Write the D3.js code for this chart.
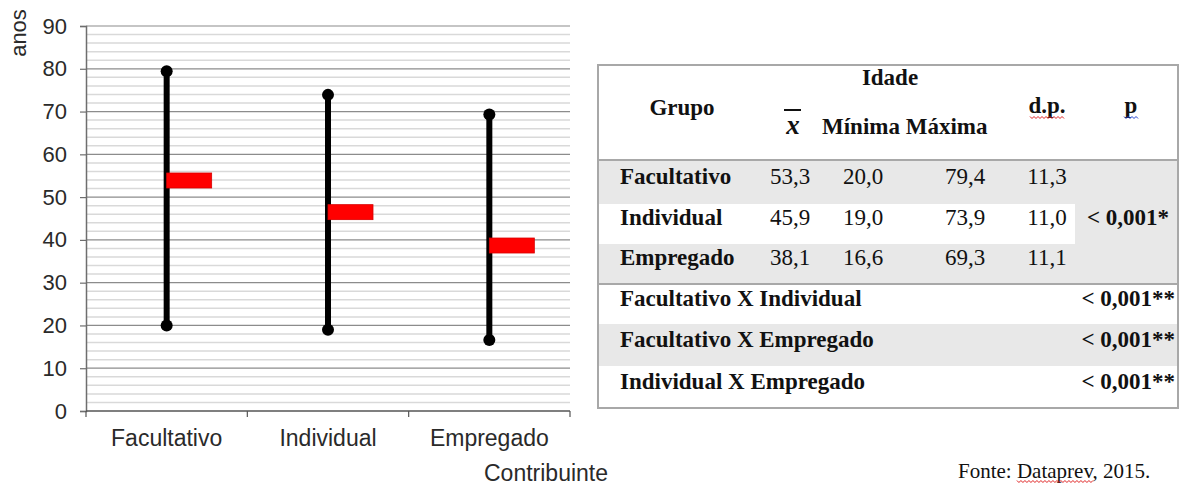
<!DOCTYPE html>
<html>
<head>
<meta charset="utf-8">
<script src="https://cdn.jsdelivr.net/npm/d3@7"></script>
<style>
  html, body { margin: 0; padding: 0; background: #fff; }
  svg { display: block; }
</style>
</head>
<body>
<svg id="chart" width="1181" height="487"></svg>
<script>
const categories = ["Facultativo", "Individual", "Empregado"];
const means = [53.3, 45.9, 38.1];
const minima = [20.0, 19.0, 16.6];
const maxima = [79.4, 73.9, 69.3];
const stdDevs = [11.3, 11.0, 11.1];
const yTicks = [0, 10, 20, 30, 40, 50, 60, 70, 80, 90];
const groupP = "< 0,001*";
const comparisons = ["Facultativo X Individual", "Facultativo X Empregado", "Individual X Empregado"];
const comparisonP = ["< 0,001**", "< 0,001**", "< 0,001**"];
const fmt = v => v.toFixed(1).replace(".", ",");

const svg = d3.select("#chart");
const sans = "Liberation Sans, Arial, sans-serif";
const serif = "Liberation Serif, Times New Roman, serif";

// ---------- chart ----------
const x = d3.scaleBand().domain(categories).range([86, 570]);
const y = d3.scaleLinear().domain([0, 90]).range([411, 26]);

// minor grid every 2
svg.append("g")
  .selectAll("line")
  .data(y.ticks(45).filter(t => t % 10 !== 0))
  .join("line")
  .attr("x1", 86).attr("x2", 570)
  .attr("y1", d => y(d)).attr("y2", d => y(d))
  .attr("stroke", "#d9d9d9").attr("stroke-width", 1.5);

// major grid
svg.append("g")
  .selectAll("line")
  .data(yTicks.filter(t => t > 0))
  .join("line")
  .attr("x1", 86).attr("x2", 570)
  .attr("y1", d => y(d)).attr("y2", d => y(d))
  .attr("stroke", "#8c8c8c").attr("stroke-width", 1.2);

// y axis
const yAxis = svg.append("g")
  .attr("transform", "translate(86,0)")
  .call(d3.axisLeft(y).tickValues(yTicks).tickSize(6).tickPadding(13));
yAxis.select(".domain").attr("stroke", "#6e6e6e").attr("stroke-width", 1.5);
yAxis.selectAll(".tick line").attr("stroke", "#6e6e6e").attr("stroke-width", 1.2);
yAxis.selectAll("text").attr("font-family", sans).attr("font-size", 22).attr("fill", "#2a2a2a");

// x axis: labels at band centres, ticks between categories
const xAxis = svg.append("g")
  .attr("transform", `translate(0,${y(0)})`)
  .call(d3.axisBottom(x).tickSize(0).tickPadding(19));
xAxis.select(".domain").remove();
xAxis.selectAll("text").attr("font-family", sans).attr("font-size", 23).attr("fill", "#2a2a2a");

svg.append("line")
  .attr("x1", 86).attr("x2", 570)
  .attr("y1", y(0)).attr("y2", y(0))
  .attr("stroke", "#555").attr("stroke-width", 1.5);
svg.append("g")
  .selectAll("line")
  .data(categories.map(c => x(c)).concat([x.range()[1]]))
  .join("line")
  .attr("x1", d => d).attr("x2", d => d)
  .attr("y1", y(0)).attr("y2", y(0) + 6)
  .attr("stroke", "#555").attr("stroke-width", 1.2);

// axis titles
svg.append("text")
  .attr("transform", "translate(26,33) rotate(-90)")
  .attr("text-anchor", "middle")
  .attr("font-family", sans).attr("font-size", 22).attr("fill", "#2a2a2a")
  .text("anos");
svg.append("text")
  .attr("x", 546).attr("y", 481)
  .attr("text-anchor", "middle")
  .attr("font-family", sans).attr("font-size", 23).attr("fill", "#2a2a2a")
  .text("Contribuinte");

// high-low lines
const cx = c => x(c) + x.bandwidth() / 2;
const marks = svg.append("g");
categories.forEach((c, i) => {
  marks.append("line")
    .attr("x1", cx(c)).attr("x2", cx(c))
    .attr("y1", y(minima[i])).attr("y2", y(maxima[i]))
    .attr("stroke", "#000").attr("stroke-width", 6);
  marks.selectAll(null)
    .data([minima[i], maxima[i]])
    .join("circle")
    .attr("cx", cx(c)).attr("cy", d => y(d)).attr("r", 6)
    .attr("fill", "#000");
  marks.append("rect")
    .attr("x", cx(c)).attr("y", y(means[i]) - 10)
    .attr("width", 45).attr("height", 15)
    .attr("fill", "#ff0000").attr("stroke", "#d80000").attr("stroke-width", 0.8);
});

// ---------- table ----------
const T = { x0: 598, x1: 1178, top: 65, head: 160, grp: 284, bottom: 408 };
const rowY = [160, 204, 244, 284];
const cmpY = [284, 324, 366, 408];
const gray = "#e8e8e8";
const tb = svg.append("g");

tb.append("rect").attr("x", T.x0).attr("y", rowY[0]).attr("width", T.x1 - T.x0).attr("height", rowY[3] - rowY[0]).attr("fill", gray);
tb.append("rect").attr("x", T.x0).attr("y", rowY[1]).attr("width", 1075 - T.x0).attr("height", rowY[2] - rowY[1]).attr("fill", "#fff");
tb.append("rect").attr("x", T.x0).attr("y", cmpY[1]).attr("width", T.x1 - T.x0).attr("height", cmpY[2] - cmpY[1]).attr("fill", gray);

[T.head, T.grp].forEach(v => tb.append("line")
  .attr("x1", T.x0).attr("x2", T.x1).attr("y1", v).attr("y2", v)
  .attr("stroke", "#a8a8a8").attr("stroke-width", 2));
tb.append("rect").attr("x", T.x0).attr("y", T.top).attr("width", T.x1 - T.x0).attr("height", T.bottom - T.top)
  .attr("fill", "none").attr("stroke", "#a8a8a8").attr("stroke-width", 2);

function txt(s, px, py, opts = {}) {
  return tb.append("text")
    .attr("x", px).attr("y", py)
    .attr("text-anchor", opts.anchor || "start")
    .attr("font-family", serif)
    .attr("font-size", opts.size || 23)
    .attr("font-weight", opts.bold ? "bold" : "normal")
    .attr("font-style", opts.italic ? "italic" : "normal")
    .attr("fill", "#111")
    .text(s);
}
function squiggle(x1, x2, yy, color) {
  const pts = [];
  for (let px = x1, k = 0; px <= x2; px += 2, k++) pts.push([px, yy + (k % 2 ? 1.5 : -0.5)]);
  tb.append("path").attr("d", d3.line()(pts)).attr("fill", "none").attr("stroke", color).attr("stroke-width", 1);
}

// header
txt("Idade", 890, 85, { anchor: "middle", bold: true });
txt("Grupo", 682, 115, { anchor: "middle", bold: true });
txt("x", 793, 134, { anchor: "middle", bold: true, italic: true, size: 27 });
tb.append("line").attr("x1", 784).attr("x2", 801).attr("y1", 110).attr("y2", 110).attr("stroke", "#111").attr("stroke-width", 2);
txt("Mínima Máxima", 822, 134, { bold: true });
txt("d.p.", 1047, 113, { anchor: "middle", bold: true });
squiggle(1030, 1064, 117, "#e02020");
txt("p", 1131, 113, { anchor: "middle", bold: true });
squiggle(1124, 1139, 117, "#2040d0");

// group rows
const baseY = [184, 225, 265];
categories.forEach((c, i) => {
  txt(c, 620, baseY[i], { bold: true });
  txt(fmt(means[i]), 790, baseY[i], { anchor: "middle" });
  txt(fmt(minima[i]), 863, baseY[i], { anchor: "middle" });
  txt(fmt(maxima[i]), 965, baseY[i], { anchor: "middle" });
  txt(fmt(stdDevs[i]), 1047, baseY[i], { anchor: "middle" });
});
txt(groupP, 1128, 225, { anchor: "middle", bold: true });

// pairwise rows
const cmpBase = [306, 347, 389];
comparisons.forEach((c, i) => {
  txt(c, 620, cmpBase[i], { bold: true });
  txt(comparisonP[i], 1175, cmpBase[i], { anchor: "end", bold: true });
});

// source
const src = tb.append("text").attr("x", 958).attr("y", 478)
  .attr("font-family", serif).attr("font-size", 21).attr("fill", "#111");
src.append("tspan").text("Fonte: ");
const dp = src.append("tspan").text("Dataprev");
src.append("tspan").text(", 2015.");
const bb = dp.node().getBBox();
squiggle(bb.x, bb.x + bb.width, 481, "#e02020");
</script>
</body>
</html>
